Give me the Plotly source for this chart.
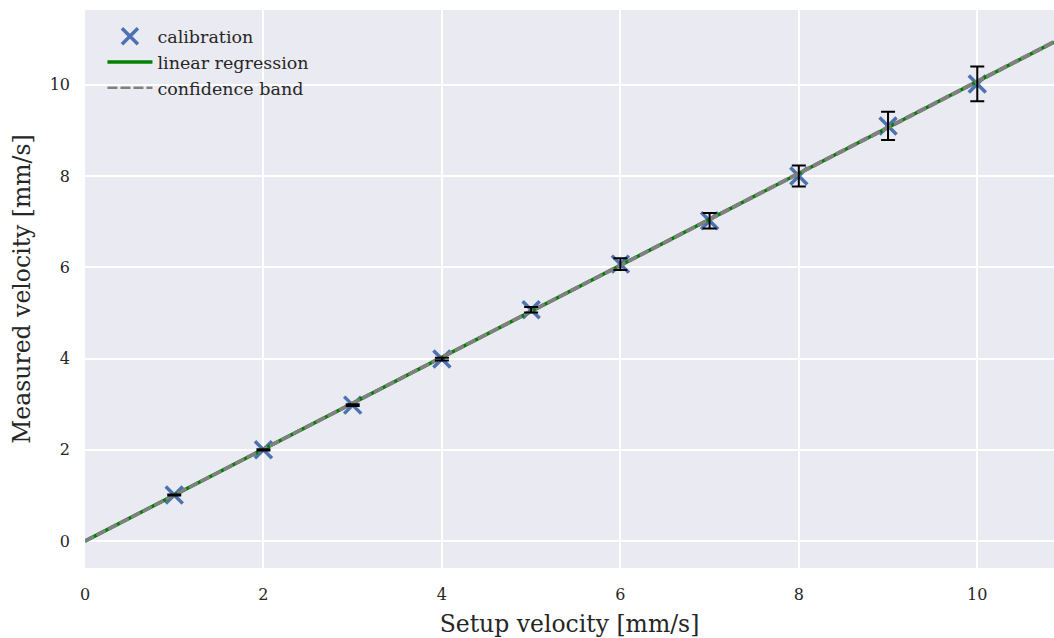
import plotly.graph_objects as go

setup_velocity = [1, 2, 3, 4, 5, 6, 7, 8, 9, 10]
measured_velocity = [1.01, 2.00, 2.98, 3.99, 5.07, 6.07, 7.02, 8.00, 9.10, 10.02]
measured_error = [0.01, 0.015, 0.02, 0.03, 0.06, 0.13, 0.17, 0.23, 0.31, 0.38]

fit_x = [0.0, 10.86]
fit_y = [0.0, 10.94]
band_upper = [0.01, 10.96]
band_lower = [-0.01, 10.92]

x_ticks = [0, 2, 4, 6, 8, 10]
y_ticks = [0, 2, 4, 6, 8, 10]

FONT = "DejaVu Serif"
TXT = "#262626"
BLUE = "#4C72B0"

fig = go.Figure()

fig.add_trace(go.Scatter(
    x=setup_velocity, y=measured_velocity, mode="markers", name="calibration",
    marker=dict(symbol="x-thin", size=17, line=dict(width=3.5, color=BLUE), color=BLUE),
))
fig.add_trace(go.Scatter(
    x=fit_x, y=fit_y, mode="lines", name="linear regression",
    line=dict(color="green", width=3.5),
))
fig.add_trace(go.Scatter(
    x=fit_x, y=band_upper, mode="lines", name="confidence band",
    line=dict(color="grey", width=2.5, dash="10px,3px"),
))
fig.add_trace(go.Scatter(
    x=fit_x, y=band_lower, mode="lines", showlegend=False,
    line=dict(color="grey", width=2.5, dash="10px,3px"),
))
fig.add_trace(go.Scatter(
    x=setup_velocity, y=measured_velocity, mode="markers", showlegend=False,
    marker=dict(size=1, opacity=0),
    error_y=dict(type="data", array=measured_error, color="black", thickness=2, width=7),
))

fig.update_layout(
    width=1054, height=638,
    margin=dict(l=85, r=0, t=10, b=70),
    paper_bgcolor="white",
    plot_bgcolor="#EAEAF2",
    font=dict(family=FONT, color=TXT, size=16),
    showlegend=True,
    legend=dict(x=0.018, y=0.985, xanchor="left", yanchor="top",
                bgcolor="rgba(0,0,0,0)", font=dict(size=17.5, family=FONT, color=TXT),
                tracegroupgap=0, itemwidth=45),
    xaxis=dict(
        range=[0, 10.86], tickvals=x_ticks, ticktext=[str(t) for t in x_ticks],
        showgrid=True, gridcolor="white", gridwidth=2, zeroline=False,
        showline=False, ticks="", ticklabelstandoff=15,
        tickfont=dict(size=16, family=FONT, color=TXT),
        title=dict(text="Setup velocity [mm/s]", font=dict(size=23.5, family=FONT, color=TXT), standoff=12),
    ),
    yaxis=dict(
        range=[-0.59, 11.64], tickvals=y_ticks, ticktext=[str(t) for t in y_ticks],
        showgrid=True, gridcolor="white", gridwidth=2, zeroline=False,
        showline=False, ticks="", ticklabelstandoff=14,
        tickfont=dict(size=16, family=FONT, color=TXT),
        title=dict(text="Measured velocity [mm/s]", font=dict(size=23.5, family=FONT, color=TXT), standoff=12),
    ),
)

fig.write_html("out.html")
